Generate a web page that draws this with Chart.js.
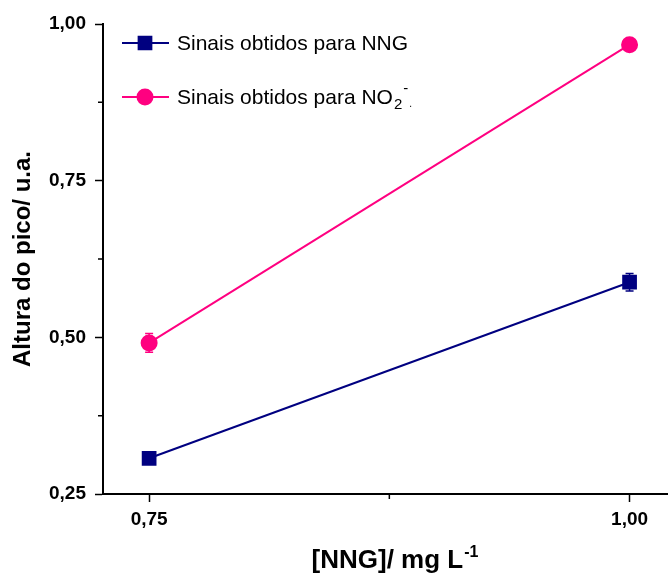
<!DOCTYPE html>
<html>
<head>
<meta charset="utf-8">
<script src="https://cdn.jsdelivr.net/npm/chart.js@4.4.1/dist/chart.umd.min.js"></script>
<style>
  body { margin: 0; background: #fff; }
  #wrap { width: 668px; height: 579px; }
</style>
</head>
<body>
<div id="wrap"><canvas id="chart" width="668" height="579"></canvas></div>
<script>
// data
const concentrations = [0.75, 1.00];
const nngValues = [0.307, 0.588];
const nngErrors = [0.005, 0.014];
const no2Values = [0.491, 0.967];
const no2Errors = [0.015, 0.005];
const xTickValues = [0.75, 0.875, 1.00];
const yTickValues = [0.25, 0.375, 0.50, 0.625, 0.75, 0.875, 1.00];

const NAVY = '#000080';
const PINK = '#ff0080';
const FONT = '"Liberation Sans", Arial, sans-serif';

function isMajor(v) {
  return Math.abs(v * 4 - Math.round(v * 4)) < 1e-6;
}
function fmt(v) {
  return v.toFixed(2).replace('.', ',');
}

function toPoints(values) {
  return concentrations.map((x, i) => ({ x: x, y: values[i] }));
}

// vertical error bars, drawn through the scales
const errorBars = {
  id: 'errorBars',
  beforeDatasetsDraw(chart) {
    const ctx = chart.ctx;
    const xs = chart.scales.x, ys = chart.scales.y;
    chart.data.datasets.forEach(ds => {
      ctx.save();
      ctx.strokeStyle = ds.borderColor;
      ctx.lineWidth = 1.5;
      ds.data.forEach((p, i) => {
        const e = ds.errors[i];
        const px = xs.getPixelForValue(p.x);
        const top = ys.getPixelForValue(p.y + e);
        const bot = ys.getPixelForValue(p.y - e);
        ctx.beginPath();
        ctx.moveTo(px, top); ctx.lineTo(px, bot);
        ctx.moveTo(px - 4, top); ctx.lineTo(px + 4, top);
        ctx.moveTo(px - 4, bot); ctx.lineTo(px + 4, bot);
        ctx.stroke();
      });
      ctx.restore();
    });
  }
};

// short minor ticks
const minorTicks = {
  id: 'minorTicks',
  afterDraw(chart) {
    const ctx = chart.ctx;
    const xs = chart.scales.x, ys = chart.scales.y;
    const area = chart.chartArea;
    ctx.save();
    ctx.strokeStyle = '#000';
    ctx.lineWidth = 1.5;
    ctx.beginPath();
    xTickValues.filter(v => !isMajor(v)).forEach(v => {
      const px = xs.getPixelForValue(v);
      ctx.moveTo(px, area.bottom); ctx.lineTo(px, area.bottom + 5);
    });
    yTickValues.filter(v => !isMajor(v)).forEach(v => {
      const py = ys.getPixelForValue(v);
      ctx.moveTo(area.left, py); ctx.lineTo(area.left - 5, py);
    });
    ctx.stroke();
    ctx.restore();
  }
};

// legend and x title with sub/superscripts
const textParts = {
  id: 'textParts',
  afterDraw(chart) {
    const ctx = chart.ctx;
    const rows = [
      { y: 43, ds: chart.data.datasets[0], text: 'Sinais obtidos para NNG' },
      { y: 97, ds: chart.data.datasets[1], text: 'Sinais obtidos para NO', sub: '2', sup: '-', tail: '.' }
    ];
    ctx.save();
    rows.forEach(r => {
      ctx.strokeStyle = r.ds.borderColor;
      ctx.lineWidth = 2;
      ctx.beginPath();
      ctx.moveTo(122, r.y); ctx.lineTo(169, r.y);
      ctx.stroke();
      Chart.helpers.drawPoint(ctx, {
        pointStyle: r.ds.pointStyle, radius: r.ds.pointRadius, borderWidth: 1
      }, 145, r.y);
      ctx.fillStyle = r.ds.pointBackgroundColor;
      ctx.fill();
      ctx.fillStyle = '#000';
      ctx.font = '21px ' + FONT;
      ctx.textBaseline = 'alphabetic';
      ctx.textAlign = 'left';
      const base = r.y + 7;
      ctx.fillText(r.text, 177, base);
      let x = 177 + ctx.measureText(r.text).width;
      if (r.sub) {
        ctx.font = '15px ' + FONT;
        ctx.fillText(r.sub, x + 1, base + 5);
        const w = ctx.measureText(r.sub).width;
        ctx.fillText(r.sup, x + 2 + w, base - 11);
        ctx.font = '10px ' + FONT;
        ctx.fillText(r.tail, x + 3 + w + 5, base + 3);
      }
    });
    // x axis title
    ctx.fillStyle = '#000';
    ctx.font = 'bold 26px ' + FONT;
    const main = '[NNG]/ mg L';
    const w1 = ctx.measureText(main).width;
    ctx.font = 'bold 16px ' + FONT;
    const w2 = ctx.measureText('-1').width;
    const start = 395 - (w1 + w2 + 1) / 2;
    ctx.font = 'bold 26px ' + FONT;
    ctx.fillText(main, start, 568);
    ctx.font = 'bold 16px ' + FONT;
    ctx.fillText('-1', start + w1 + 1, 557);
    ctx.restore();
  }
};

const axisGrid = {
  display: true,
  drawOnChartArea: false,
  drawTicks: true,
  tickLength: 8,
  tickWidth: 1.5,
  tickColor: c => (c.tick && isMajor(c.tick.value)) ? '#000' : 'rgba(0,0,0,0)'
};

new Chart(document.getElementById('chart'), {
  type: 'line',
  data: {
    datasets: [
      {
        label: 'Sinais obtidos para NNG',
        data: toPoints(nngValues),
        errors: nngErrors,
        borderColor: NAVY,
        backgroundColor: NAVY,
        pointBackgroundColor: NAVY,
        pointBorderColor: NAVY,
        pointStyle: 'rect',
        pointRadius: 9,
        borderWidth: 2,
        fill: false,
        tension: 0,
        clip: false
      },
      {
        label: 'Sinais obtidos para NO2-',
        data: toPoints(no2Values),
        errors: no2Errors,
        borderColor: PINK,
        backgroundColor: PINK,
        pointBackgroundColor: PINK,
        pointBorderColor: PINK,
        pointStyle: 'circle',
        pointRadius: 7.5,
        borderWidth: 2,
        fill: false,
        tension: 0,
        clip: false
      }
    ]
  },
  options: {
    responsive: false,
    animation: false,
    layout: { autoPadding: false, padding: { top: 24, right: 0, bottom: 0, left: 0 } },
    plugins: {
      legend: { display: false },
      tooltip: { enabled: false }
    },
    scales: {
      x: {
        type: 'linear',
        min: 0.726,
        max: 1.02,
        afterBuildTicks: s => { s.ticks = xTickValues.map(v => ({ value: v })); },
        afterFit: s => { s.height = 85; s.paddingLeft = 0; s.paddingRight = 0; },
        grid: axisGrid,
        border: { display: true, color: '#000', width: 2 },
        ticks: {
          color: '#000',
          padding: 6,
          maxRotation: 0,
          autoSkip: false,
          font: { family: FONT, size: 19, weight: 'bold' },
          callback: v => isMajor(v) ? fmt(v) : ''
        }
      },
      y: {
        type: 'linear',
        min: 0.25,
        max: 1.00,
        afterBuildTicks: s => { s.ticks = yTickValues.map(v => ({ value: v })); },
        afterFit: s => { s.width = 103; s.paddingTop = 0; s.paddingBottom = 0; },
        grid: axisGrid,
        border: { display: true, color: '#000', width: 2 },
        ticks: {
          color: '#000',
          padding: 9,
          autoSkip: false,
          font: { family: FONT, size: 19, weight: 'bold' },
          callback: v => isMajor(v) ? fmt(v) : ''
        },
        title: {
          display: true,
          text: 'Altura do pico/ u.a.',
          color: '#000',
          padding: { top: 9, bottom: 0 },
          font: { family: FONT, size: 24, weight: 'bold' }
        }
      }
    }
  },
  plugins: [errorBars, minorTicks, textParts]
});
</script>
</body>
</html>
